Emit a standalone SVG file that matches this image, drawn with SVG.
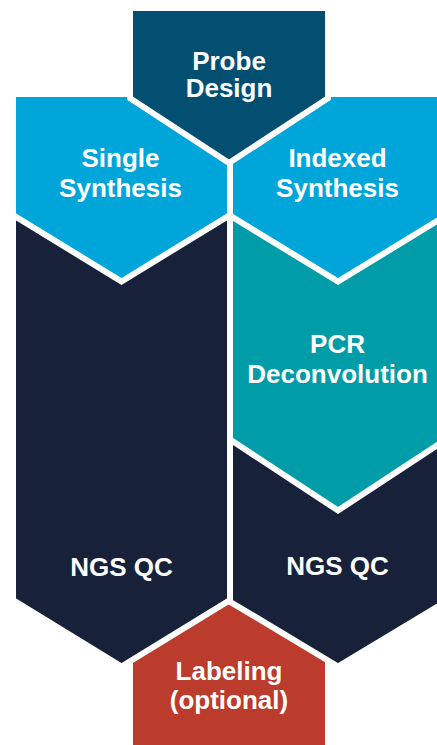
<svg xmlns="http://www.w3.org/2000/svg" width="437" height="745" viewBox="0 0 437 745">
<style>
.shape{stroke:#ffffff;stroke-width:6;stroke-linejoin:miter}
.lbl{font-family:"Liberation Sans",Arial,sans-serif;font-weight:bold;font-size:26px;fill:#ffffff;text-anchor:middle}
</style>
<rect x="0" y="0" width="437" height="745" fill="#ffffff"/>
<g id="labeling">
<polygon class="shape" fill="#bb3b2c" points="130,590 328,590 328,750 130,750"/>
<text class="lbl" x="229" y="680">Labeling</text>
<text class="lbl" x="229" y="708.5">(optional)</text>
</g>
<g id="ngs-qc-left">
<polygon class="shape" fill="#172139" points="13,200 230,200 230,600 121.5,666.5 13,600"/>
<text class="lbl" x="121.5" y="576">NGS QC</text>
</g>
<g id="ngs-qc-right">
<polygon class="shape" fill="#172139" points="230,400 446,400 446,601.7 338,666.5 230,601.7"/>
<text class="lbl" x="337.5" y="574.5">NGS QC</text>
</g>
<g id="pcr-deconvolution">
<polygon class="shape" fill="#009ca7" points="230,200 446,200 446,439.5 338,510.5 230,439.5"/>
<text class="lbl" x="337.5" y="353">PCR</text>
<text class="lbl" x="337.5" y="383">Deconvolution</text>
</g>
<g id="indexed-synthesis">
<polygon class="shape" fill="#00a5da" points="230,94 446,94 446,215.6 338,281.5 230,215.6"/>
<text class="lbl" x="337.5" y="166.5">Indexed</text>
<text class="lbl" x="337.5" y="196.5">Synthesis</text>
</g>
<g id="single-synthesis">
<polygon class="shape" fill="#00a5da" points="13,94 230,94 230,215 121.5,281.5 13,215"/>
<text class="lbl" x="120.5" y="166.5">Single</text>
<text class="lbl" x="120.5" y="196.5">Synthesis</text>
</g>
<g id="probe-design">
<polygon class="shape" fill="#034f72" points="130,8 328,8 328,98.2 229,162.9 130,98.2"/>
<text class="lbl" x="229" y="69.5">Probe</text>
<text class="lbl" x="229" y="96.5">Design</text>
</g>
</svg>
